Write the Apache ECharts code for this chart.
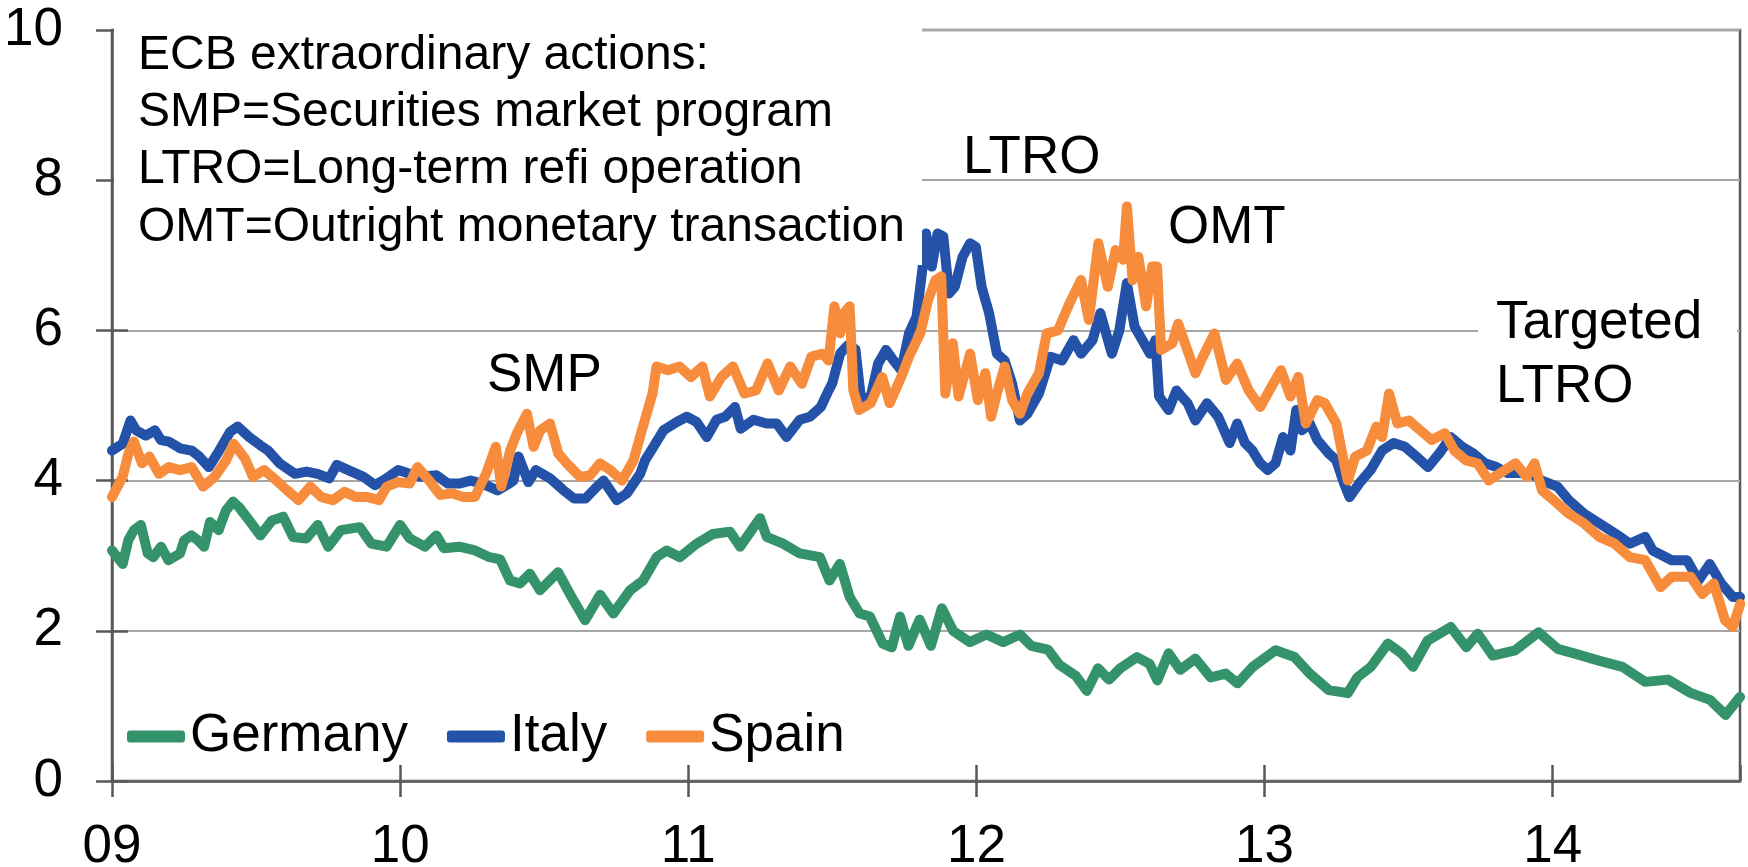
<!DOCTYPE html>
<html>
<head>
<meta charset="utf-8">
<script src="https://cdn.jsdelivr.net/npm/echarts@6/dist/echarts.min.js"></script>
<style>html,body{margin:0;padding:0;background:#fff;}#c{width:1748px;height:867px;}</style>
</head>
<body>
<div id="c"></div>
<script>
// x = decimal year, y = 10-year government bond yield (%)
const germany = [[2009.000,3.07],[2009.037,2.89],[2009.057,3.21],[2009.076,3.34],[2009.100,3.41],[2009.124,3.03],[2009.143,2.98],[2009.170,3.12],[2009.196,2.94],[2009.236,3.03],[2009.250,3.20],[2009.276,3.27],[2009.300,3.20],[2009.320,3.12],[2009.340,3.45],[2009.370,3.34],[2009.395,3.60],[2009.420,3.72],[2009.440,3.65],[2009.476,3.47],[2009.515,3.27],[2009.555,3.47],[2009.594,3.52],[2009.628,3.25],[2009.674,3.23],[2009.714,3.41],[2009.750,3.12],[2009.794,3.34],[2009.860,3.38],[2009.900,3.16],[2009.953,3.12],[2010.000,3.41],[2010.033,3.23],[2010.086,3.12],[2010.126,3.27],[2010.152,3.10],[2010.205,3.12],[2010.260,3.07],[2010.310,2.98],[2010.347,2.95],[2010.381,2.67],[2010.416,2.63],[2010.450,2.76],[2010.485,2.54],[2010.548,2.78],[2010.595,2.45],[2010.642,2.14],[2010.694,2.48],[2010.740,2.23],[2010.798,2.54],[2010.843,2.67],[2010.890,2.98],[2010.925,3.07],[2010.971,2.98],[2011.029,3.16],[2011.086,3.29],[2011.145,3.32],[2011.180,3.12],[2011.249,3.50],[2011.272,3.25],[2011.329,3.16],[2011.387,3.03],[2011.457,2.98],[2011.490,2.67],[2011.526,2.89],[2011.560,2.45],[2011.595,2.23],[2011.630,2.19],[2011.675,1.83],[2011.706,1.78],[2011.735,2.19],[2011.764,1.80],[2011.803,2.15],[2011.842,1.80],[2011.880,2.30],[2011.919,2.00],[2011.977,1.85],[2012.035,1.95],[2012.093,1.85],[2012.151,1.95],[2012.190,1.80],[2012.248,1.75],[2012.287,1.55],[2012.345,1.40],[2012.383,1.20],[2012.422,1.50],[2012.460,1.35],[2012.499,1.50],[2012.557,1.65],[2012.601,1.56],[2012.628,1.34],[2012.667,1.70],[2012.707,1.48],[2012.760,1.63],[2012.813,1.38],[2012.865,1.43],[2012.906,1.30],[2012.959,1.52],[2013.038,1.74],[2013.104,1.65],[2013.157,1.43],[2013.223,1.21],[2013.289,1.17],[2013.322,1.38],[2013.369,1.52],[2013.428,1.83],[2013.475,1.70],[2013.515,1.52],[2013.566,1.87],[2013.646,2.05],[2013.700,1.78],[2013.740,1.96],[2013.792,1.67],[2013.870,1.74],[2013.951,1.98],[2014.017,1.76],[2014.083,1.69],[2014.163,1.60],[2014.242,1.52],[2014.321,1.32],[2014.400,1.35],[2014.480,1.17],[2014.546,1.08],[2014.600,0.88],[2014.650,1.12]];

const italy = [[2009.000,4.40],[2009.037,4.49],[2009.064,4.80],[2009.084,4.67],[2009.117,4.60],[2009.149,4.67],[2009.170,4.54],[2009.197,4.52],[2009.236,4.43],[2009.276,4.40],[2009.303,4.32],[2009.336,4.18],[2009.369,4.38],[2009.410,4.65],[2009.436,4.72],[2009.476,4.58],[2009.515,4.47],[2009.542,4.40],[2009.582,4.23],[2009.635,4.09],[2009.675,4.12],[2009.714,4.09],[2009.754,4.03],[2009.780,4.21],[2009.820,4.14],[2009.873,4.05],[2009.913,3.94],[2009.953,4.03],[2009.993,4.14],[2010.033,4.09],[2010.073,4.05],[2010.126,4.07],[2010.166,3.96],[2010.205,3.96],[2010.245,4.00],[2010.285,3.96],[2010.338,3.87],[2010.378,3.96],[2010.393,4.00],[2010.411,4.32],[2010.445,3.98],[2010.471,4.14],[2010.520,4.03],[2010.567,3.87],[2010.604,3.76],[2010.643,3.76],[2010.683,3.92],[2010.706,4.00],[2010.752,3.74],[2010.787,3.83],[2010.833,4.09],[2010.850,4.27],[2010.879,4.45],[2010.914,4.67],[2010.960,4.78],[2010.995,4.85],[2011.029,4.78],[2011.064,4.58],[2011.098,4.81],[2011.128,4.85],[2011.162,4.98],[2011.182,4.69],[2011.226,4.81],[2011.272,4.76],[2011.307,4.76],[2011.341,4.58],[2011.387,4.81],[2011.422,4.85],[2011.460,4.98],[2011.487,5.20],[2011.500,5.30],[2011.527,5.69],[2011.553,5.80],[2011.580,5.75],[2011.600,5.07],[2011.633,5.12],[2011.659,5.56],[2011.686,5.74],[2011.712,5.60],[2011.739,5.47],[2011.766,5.96],[2011.792,6.18],[2011.812,6.80],[2011.825,7.29],[2011.845,6.85],[2011.865,7.29],[2011.885,7.25],[2011.905,6.49],[2011.925,6.58],[2011.952,6.98],[2011.978,7.16],[2011.998,7.11],[2012.018,6.58],[2012.044,6.23],[2012.071,5.69],[2012.098,5.60],[2012.124,5.29],[2012.151,4.80],[2012.177,4.89],[2012.217,5.16],[2012.257,5.65],[2012.297,5.60],[2012.337,5.87],[2012.363,5.69],[2012.403,5.87],[2012.430,6.23],[2012.470,5.69],[2012.496,6.00],[2012.522,6.63],[2012.549,6.05],[2012.576,5.87],[2012.602,5.69],[2012.621,5.87],[2012.634,5.12],[2012.667,4.94],[2012.694,5.20],[2012.733,5.03],[2012.760,4.80],[2012.800,5.03],[2012.839,4.85],[2012.879,4.50],[2012.905,4.76],[2012.932,4.50],[2012.958,4.40],[2012.985,4.23],[2013.011,4.14],[2013.038,4.23],[2013.064,4.58],[2013.090,4.40],[2013.110,4.94],[2013.130,4.67],[2013.157,4.76],[2013.183,4.54],[2013.223,4.36],[2013.249,4.27],[2013.276,3.96],[2013.295,3.78],[2013.328,3.96],[2013.368,4.14],[2013.408,4.40],[2013.448,4.50],[2013.487,4.45],[2013.527,4.32],[2013.567,4.18],[2013.606,4.36],[2013.646,4.58],[2013.686,4.45],[2013.725,4.36],[2013.765,4.23],[2013.805,4.18],[2013.844,4.10],[2013.884,4.10],[2013.924,4.10],[2013.963,4.00],[2014.016,3.92],[2014.056,3.74],[2014.109,3.56],[2014.162,3.43],[2014.215,3.30],[2014.268,3.16],[2014.321,3.25],[2014.347,3.07],[2014.413,2.94],[2014.466,2.94],[2014.506,2.67],[2014.545,2.89],[2014.585,2.63],[2014.625,2.45],[2014.650,2.45]];

const spain = [[2009.000,3.78],[2009.037,4.05],[2009.057,4.36],[2009.076,4.52],[2009.104,4.23],[2009.130,4.32],[2009.163,4.09],[2009.197,4.18],[2009.236,4.14],[2009.276,4.18],[2009.316,3.92],[2009.356,4.05],[2009.396,4.27],[2009.422,4.49],[2009.462,4.29],[2009.489,4.05],[2009.528,4.14],[2009.568,4.01],[2009.608,3.87],[2009.648,3.74],[2009.688,3.92],[2009.727,3.78],[2009.767,3.74],[2009.807,3.85],[2009.847,3.78],[2009.887,3.78],[2009.927,3.74],[2009.953,3.92],[2009.993,3.98],[2010.033,3.96],[2010.060,4.18],[2010.099,4.01],[2010.139,3.81],[2010.180,3.83],[2010.219,3.78],[2010.259,3.78],[2010.298,4.09],[2010.332,4.45],[2010.351,3.92],[2010.382,4.40],[2010.405,4.63],[2010.440,4.89],[2010.463,4.45],[2010.486,4.67],[2010.520,4.76],[2010.549,4.36],[2010.578,4.23],[2010.624,4.05],[2010.659,4.07],[2010.694,4.23],[2010.730,4.14],[2010.770,4.00],[2010.810,4.27],[2010.836,4.63],[2010.876,5.16],[2010.890,5.52],[2010.930,5.47],[2010.969,5.52],[2011.009,5.38],[2011.049,5.52],[2011.075,5.12],[2011.115,5.38],[2011.155,5.52],[2011.195,5.16],[2011.235,5.20],[2011.275,5.56],[2011.314,5.20],[2011.354,5.52],[2011.394,5.29],[2011.427,5.65],[2011.467,5.69],[2011.487,5.60],[2011.507,6.32],[2011.527,5.96],[2011.540,6.23],[2011.560,6.32],[2011.573,5.20],[2011.593,4.94],[2011.633,5.03],[2011.673,5.38],[2011.699,5.03],[2011.739,5.38],[2011.766,5.65],[2011.805,5.96],[2011.832,6.40],[2011.858,6.67],[2011.878,6.72],[2011.892,5.16],[2011.918,5.83],[2011.938,5.12],[2011.978,5.69],[2012.005,5.07],[2012.031,5.43],[2012.051,4.85],[2012.071,5.16],[2012.098,5.52],[2012.124,5.07],[2012.151,4.89],[2012.177,5.16],[2012.217,5.43],[2012.244,5.96],[2012.283,6.00],[2012.323,6.36],[2012.363,6.67],[2012.390,6.14],[2012.423,7.16],[2012.456,6.58],[2012.483,7.07],[2012.509,6.94],[2012.522,7.65],[2012.542,6.67],[2012.562,6.98],[2012.589,6.32],[2012.610,6.85],[2012.627,6.85],[2012.641,5.74],[2012.680,5.83],[2012.700,6.09],[2012.720,5.87],[2012.760,5.43],[2012.786,5.65],[2012.826,5.96],[2012.866,5.34],[2012.905,5.56],[2012.945,5.20],[2012.985,4.98],[2013.024,5.25],[2013.057,5.47],[2013.090,5.12],[2013.117,5.38],[2013.143,4.76],[2013.183,5.07],[2013.209,5.03],[2013.249,4.76],[2013.276,4.23],[2013.289,4.00],[2013.315,4.32],[2013.355,4.40],[2013.388,4.72],[2013.408,4.58],[2013.432,5.16],[2013.461,4.76],[2013.501,4.80],[2013.540,4.67],[2013.580,4.54],[2013.626,4.63],[2013.659,4.40],[2013.699,4.27],[2013.739,4.23],[2013.778,4.00],[2013.818,4.10],[2013.871,4.23],[2013.910,4.05],[2013.937,4.23],[2013.963,3.87],[2014.003,3.74],[2014.056,3.56],[2014.109,3.43],[2014.162,3.25],[2014.215,3.16],[2014.268,2.98],[2014.321,2.94],[2014.374,2.58],[2014.413,2.72],[2014.479,2.72],[2014.519,2.49],[2014.559,2.63],[2014.598,2.14],[2014.625,2.05],[2014.651,2.36]];

const seriesNames = ['Germany', 'Italy', 'Spain'];
const seriesColors = ['#34936a', '#2352a8', '#f68c3c'];
const noteLines = ['ECB extraordinary actions:', 'SMP=Securities market program', 'LTRO=Long-term refi operation', 'OMT=Outright monetary transaction'];
const eventLabels = ['SMP', 'LTRO', 'OMT', 'Targeted', 'LTRO'];

const FONT = '"Liberation Sans", Arial, sans-serif';
const AXIS = '#595959';
const chart = echarts.init(document.getElementById('c'), null, {renderer: 'canvas'});

const xMin = 2009, xMax = 2014.65;
const xLabel = v => (Math.abs(v - Math.round(v)) < 1e-6) ? String(Math.round(v)).slice(2) : '';

const graphic = [
  {type: 'rect', z: 100, shape: {x: 114, y: 27, width: 808, height: 238}, style: {fill: '#fff'}},
  {type: 'rect', z: 100, shape: {x: 1478, y: 300, width: 259, height: 115}, style: {fill: '#fff'}}
];
const noteY = [56, 113, 170, 228];
noteLines.forEach((t, i) => graphic.push({type: 'text', z: 101, style: {text: t, x: 138, y: noteY[i], font: '48px ' + FONT, fill: '#000', align: 'left', verticalAlign: 'middle'}}));
const evPos = [[487, 376], [963, 158], [1168, 228], [1496, 323], [1496, 387]];
eventLabels.forEach((t, i) => graphic.push({type: 'text', z: 101, style: {text: t, x: evPos[i][0], y: evPos[i][1], font: '53px ' + FONT, fill: '#000', align: 'left', verticalAlign: 'middle'}}));

const data = [germany, italy, spain];

chart.setOption({
  animation: false,
  grid: {left: 112, right: 8, top: 30, bottom: 86, show: true, borderColor: AXIS, borderWidth: 2.5, backgroundColor: 'transparent', outerBoundsMode: 'none'},
  legend: {
    left: 127, top: 710, padding: 0, itemWidth: 58, itemHeight: 12, itemGap: 39, icon: 'roundRect',
    textStyle: {fontSize: 53, fontFamily: FONT, color: '#000'},
    data: seriesNames
  },
  xAxis: [
    {type: 'value', min: xMin, max: xMax, interval: 1, position: 'bottom',
     axisLine: {show: true, onZero: false, lineStyle: {color: AXIS, width: 2.5}},
     axisTick: {show: true, inside: false, length: 16, lineStyle: {color: AXIS, width: 2.5}},
     axisLabel: {show: true, margin: 40, formatter: xLabel, fontSize: 53, fontFamily: FONT, color: '#000', showMaxLabel: false},
     splitLine: {show: false}},
    {type: 'value', min: xMin, max: xMax, interval: 1, position: 'bottom',
     axisLine: {show: false},
     axisTick: {show: true, inside: true, length: 16, lineStyle: {color: AXIS, width: 2.5}},
     axisLabel: {show: false}, splitLine: {show: false}}
  ],
  yAxis: [
    {type: 'value', min: 0, max: 10, interval: 2, position: 'left',
     axisLine: {show: true, onZero: false, lineStyle: {color: AXIS, width: 2.5}},
     axisTick: {show: true, inside: false, length: 16, lineStyle: {color: AXIS, width: 2.5}},
     axisLabel: {show: true, margin: 49, fontSize: 53, fontFamily: FONT, color: '#000'},
     splitLine: {show: true, lineStyle: {color: '#a6a6a6', width: 2}}},
    {type: 'value', min: 0, max: 10, interval: 2, position: 'left',
     axisLine: {show: false},
     axisTick: {show: true, inside: true, length: 16, lineStyle: {color: AXIS, width: 2.5}},
     axisLabel: {show: false}, splitLine: {show: false}}
  ],
  graphic: graphic,
  series: seriesNames.map((n, i) => ({
    name: n, type: 'line', xAxisIndex: 0, yAxisIndex: 0, data: data[i],
    showSymbol: false, symbol: 'none', smooth: false, z: 2 + i,
    itemStyle: {color: seriesColors[i]},
    lineStyle: {color: seriesColors[i], width: 10, cap: 'round', join: 'round'},
    emphasis: {disabled: true}
  }))
});
</script>
</body>
</html>
